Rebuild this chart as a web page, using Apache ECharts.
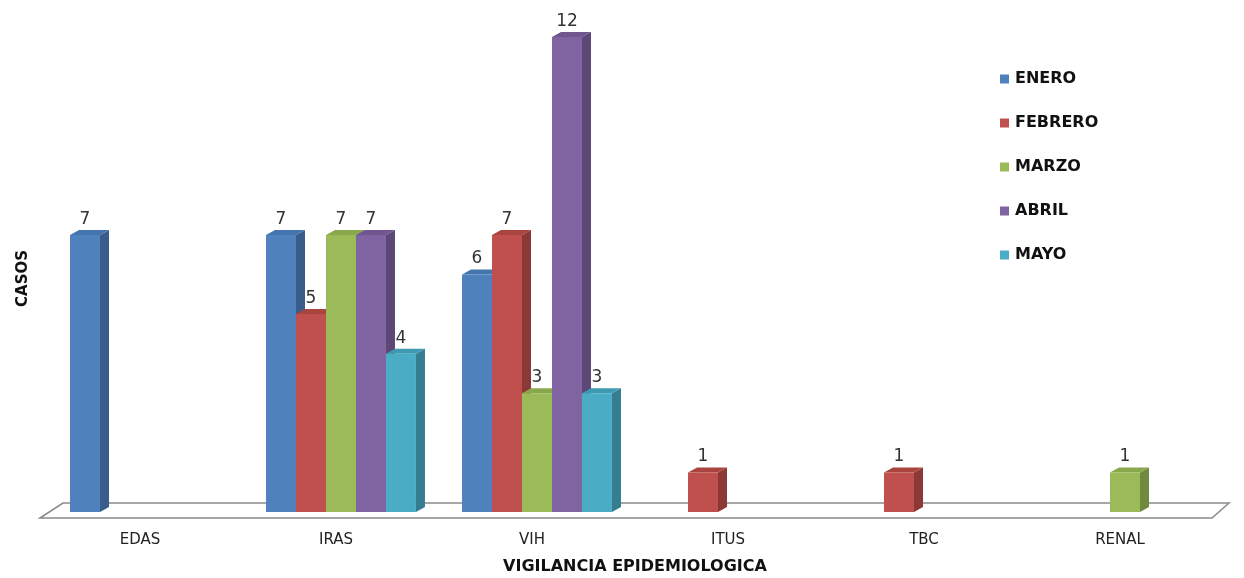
<!DOCTYPE html>
<html>
<head>
<meta charset="utf-8">
<script src="https://cdn.jsdelivr.net/npm/echarts@6/dist/echarts.min.js"></script>
<style>html,body{margin:0;padding:0;background:#fff;}#c{width:1244px;height:578px;}</style>
</head>
<body>
<div id="c"></div>
<script>
const categories = ['EDAS', 'IRAS', 'VIH', 'ITUS', 'TBC', 'RENAL'];
const months = ['ENERO', 'FEBRERO', 'MARZO', 'ABRIL', 'MAYO'];
const enero = [7, 7, 6, null, null, null];
const febrero = [null, 5, 7, 1, 1, null];
const marzo = [null, 7, 3, null, null, 1];
const abril = [null, 7, 12, null, null, null];
const mayo = [null, 4, 3, null, null, null];
const yTicks = [0, 12];

const seriesValues = [enero, febrero, marzo, abril, mayo];
const frontColors = ['#4F81BD', '#C0504D', '#9BBB59', '#8064A2', '#4BACC6'];
const sideColors = ['#385D8A', '#8C3836', '#71893F', '#5C4776', '#357D91'];
const topColors = ['#4575AE', '#A9443F', '#89A84C', '#70558F', '#3F99B1'];
const FONT = 'DejaVu Sans';

const GAP = 0.235;
const DX = 9, DY = -5;

const chart = echarts.init(document.getElementById('c'), null, {renderer: 'canvas'});

const series = [];
months.forEach((m, k) => {
  series.push({
    name: m + '_3d',
    type: 'custom',
    z: 1,
    silent: true,
    encode: {x: 0, y: 1},
    data: seriesValues[k].map((v, i) => v == null ? null : [i, v]).filter(d => d),
    renderItem: function (params, api) {
      const top = api.coord([api.value(0), api.value(1)]);
      const base = api.coord([api.value(0), 0]);
      const band = api.size([1, 0])[0];
      const bw = band * (1 - GAP) / months.length;
      const x0 = top[0] - bw * months.length / 2 + k * bw;
      const x1 = x0 + bw;
      const y = top[1], yb = base[1];
      return {
        type: 'group',
        children: [
          {type: 'polygon', shape: {points: [[x1, y], [x1 + DX, y + DY], [x1 + DX, yb + DY], [x1, yb]]}, style: {fill: sideColors[k]}},
          {type: 'polygon', shape: {points: [[x0, y], [x0 + DX, y + DY], [x1 + DX, y + DY], [x1, y]]}, style: {fill: topColors[k]}}
        ]
      };
    }
  });
});
months.forEach((m, k) => {
  series.push({
    name: m,
    type: 'bar',
    z: 2,
    barGap: '0%',
    barCategoryGap: (GAP * 100) + '%',
    itemStyle: {color: frontColors[k]},
    label: {
      show: true, position: 'top', distance: 7,
      fontSize: 17, color: '#333', fontFamily: FONT
    },
    data: seriesValues[k].map(v => v == null ? '-' : v)
  });
});

const option = {
  animation: false,
  color: frontColors,
  grid: {left: 47, right: 21, top: 37, bottom: 66, containLabel: false, outerBoundsMode: 'none'},
  legend: {
    data: months,
    orient: 'vertical',
    left: 995, top: 66,
    itemWidth: 9, itemHeight: 9, itemGap: 28,
    icon: 'rect',
    textStyle: {fontSize: 16, color: '#111', fontWeight: 'bold', fontFamily: FONT, padding: [0, 0, 0, 1]}
  },
  xAxis: {
    type: 'category',
    data: categories,
    name: 'VIGILANCIA EPIDEMIOLOGICA',
    nameLocation: 'middle',
    nameGap: 47,
    nameTextStyle: {fontSize: 16, color: '#111', fontWeight: 'bold', fontFamily: FONT},
    axisLine: {show: false},
    axisTick: {show: false},
    axisLabel: {margin: 21, fontSize: 15, color: '#222', fontFamily: FONT, padding: [0, 10, 0, 0]}
  },
  yAxis: {
    type: 'value',
    min: yTicks[0], max: yTicks[1],
    name: 'CASOS',
    nameLocation: 'middle',
    nameRotate: 90,
    nameGap: 16,
    nameTextStyle: {fontSize: 15, color: '#111', fontWeight: 'bold', fontFamily: FONT, padding: [0, 8, 0, 0]},
    axisLine: {show: false},
    axisTick: {show: false},
    axisLabel: {show: false},
    splitLine: {show: false}
  },
  series: series
};
chart.setOption(option);

// 3D floor computed from axis scales
const xa = chart.convertToPixel({xAxisIndex: 0}, categories[0]);
const xb = chart.convertToPixel({xAxisIndex: 0}, categories[1]);
const band = xb - xa;
const xStart = xa - band / 2;
const xEnd = chart.convertToPixel({xAxisIndex: 0}, categories[categories.length - 1]) + band / 2;
const y0 = chart.convertToPixel({yAxisIndex: 0}, 0);
chart.setOption({
  graphic: [{
    type: 'polygon',
    z: 0,
    silent: true,
    shape: {points: [[xStart - 7, y0 + 6], [xStart + 16, y0 - 9], [xEnd + 6, y0 - 9], [xEnd - 11, y0 + 6]]},
    style: {fill: '#fff', stroke: '#8a8a8a', lineWidth: 1.5}
  }]
});
</script>
</body>
</html>
